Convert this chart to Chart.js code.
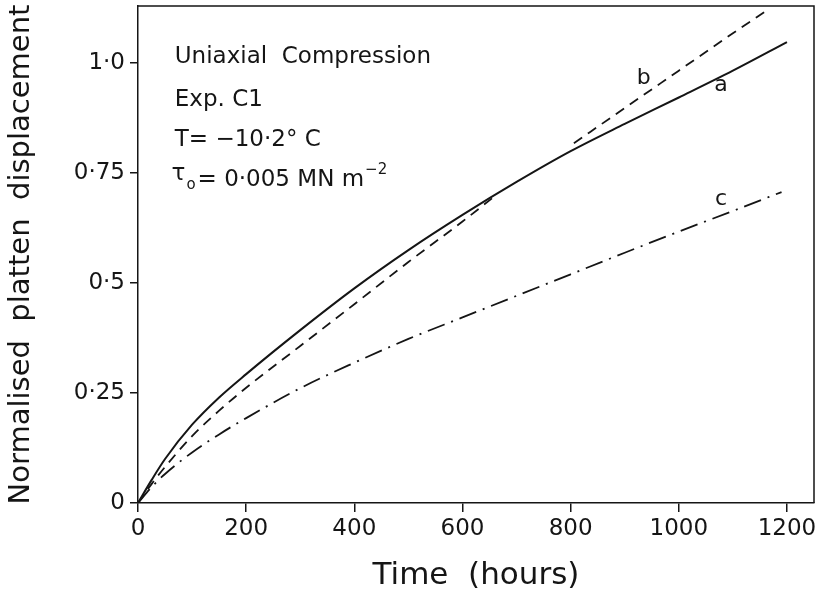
<!DOCTYPE html>
<html>
<head>
<meta charset="utf-8">
<script src="https://cdn.jsdelivr.net/npm/chart.js@4.4.0/dist/chart.umd.min.js"></script>
<style>
  html, body { margin: 0; padding: 0; background: #fff; }
</style>
</head>
<body>
<canvas id="chart" width="822" height="597"></canvas>
<script>
// curve a (solid), b (dashed, two fitted pieces), c (dash-dot)
const hoursA = [0, 25, 50, 100, 150, 200, 300, 400, 500, 600, 700, 800, 900, 1000, 1100, 1200];
const curveA = [0, 0.052, 0.10, 0.178, 0.24, 0.293, 0.393, 0.488, 0.575, 0.655, 0.73, 0.80, 0.862, 0.922, 0.983, 1.048];
const hoursB = [0, 25, 50, 100, 150, 200, 300, 400, 500, 600, 660, 730, 806, 900, 1000, 1100, 1165];
const curveB = [0, 0.043, 0.082, 0.152, 0.21, 0.262, 0.357, 0.452, 0.548, 0.64, 0.698, null, 0.818, 0.898, 0.983, 1.068, 1.122];
const hoursC = [0, 25, 50, 100, 150, 200, 300, 400, 500, 600, 700, 800, 900, 1000, 1100, 1190];
const curveC = [0, 0.036, 0.066, 0.115, 0.156, 0.193, 0.261, 0.319, 0.373, 0.422, 0.471, 0.52, 0.569, 0.617, 0.664, 0.707];

const xTicks = [0, 200, 400, 600, 800, 1000, 1200];
const yTicks = [0, 0.25, 0.5, 0.75, 1.0];
const yTickLabels = ['0', '0·25', '0·5', '0·75', '1·0'];

const curveNames = ['a', 'b', 'c'];
const curveNameAt = [[1078, 0.95], [935, 0.966], [1078, 0.69]];
const noteLines = ['Uniaxial  Compression', 'Exp. C1', 'T= −10·2° C'];
const noteAt = [[68, 1.014], [68, 0.916], [68, 0.825], [62, 0.734]];

const FONT = 'DejaVu Sans';
const INK = '#151515';

const toPoints = (xs, ys) => xs.map((x, i) => ({ x: x, y: ys[i] }));

const framePlugin = {
    id: 'frame',
    afterDraw(chart) {
        const { ctx, chartArea: a } = chart;
        ctx.save();
        ctx.strokeStyle = INK;
        ctx.lineWidth = 1.5;
        ctx.beginPath();
        ctx.moveTo(a.left, a.top);
        ctx.lineTo(a.right, a.top);
        ctx.lineTo(a.right, a.bottom);
        ctx.stroke();
        ctx.restore();
    }
};

const notesPlugin = {
    id: 'notes',
    afterDraw(chart) {
        const ctx = chart.ctx;
        const xs = chart.scales.x, ys = chart.scales.y;
        ctx.save();
        ctx.fillStyle = INK;
        ctx.textBaseline = 'middle';
        ctx.textAlign = 'left';
        ctx.font = `23px "${FONT}"`;
        noteLines.forEach((t, i) => {
            ctx.fillText(t, xs.getPixelForValue(noteAt[i][0]), ys.getPixelForValue(noteAt[i][1]));
        });

        // tau line with sub/superscript
        let x = xs.getPixelForValue(noteAt[3][0]);
        const y = ys.getPixelForValue(noteAt[3][1]);
        ctx.font = `23px "${FONT}"`;
        ctx.fillText('τ', x, y - 6);
        x += ctx.measureText('τ').width + 1;
        ctx.font = `15px "${FONT}"`;
        ctx.fillText('o', x, y + 5);
        x += ctx.measureText('o').width + 2;
        ctx.font = `23px "${FONT}"`;
        const main = '= 0·005 MN m';
        ctx.fillText(main, x, y);
        x += ctx.measureText(main).width + 1;
        ctx.font = `15px "${FONT}"`;
        ctx.fillText('−2', x, y - 10);

        ctx.font = `22px "${FONT}"`;
        ctx.textAlign = 'center';
        curveNames.forEach((n, i) => {
            ctx.fillText(n, xs.getPixelForValue(curveNameAt[i][0]), ys.getPixelForValue(curveNameAt[i][1]));
        });
        ctx.restore();
    }
};

const lineStyle = {
    borderColor: INK,
    pointRadius: 0,
    fill: false,
    cubicInterpolationMode: 'monotone',
    spanGaps: false
};

const tickFont = { family: FONT, size: 23 };

const chart = new Chart(document.getElementById('chart').getContext('2d'), {
    type: 'line',
    data: {
        datasets: [
            { ...lineStyle, label: 'a', data: toPoints(hoursA, curveA), borderWidth: 2 },
            { ...lineStyle, label: 'b', data: toPoints(hoursB, curveB), borderWidth: 1.8, borderDash: [10, 7] },
            { ...lineStyle, label: 'c', data: toPoints(hoursC, curveC), borderWidth: 1.8, borderDash: [18, 7, 2, 7] }
        ]
    },
    options: {
        responsive: false,
        animation: false,
        layout: { padding: { top: 6, right: 8, left: 0, bottom: 0 } },
        plugins: {
            legend: { display: false },
            tooltip: { enabled: false }
        },
        scales: {
            x: {
                type: 'linear',
                min: 0,
                max: 1250,
                afterBuildTicks: s => { s.ticks = xTicks.map(v => ({ value: v })); },
                afterFit: s => { s.height = 94; s.paddingLeft = 0; s.paddingRight = 0; },
                ticks: {
                    font: tickFont,
                    color: INK,
                    padding: 3,
                    maxRotation: 0,
                    autoSkip: false,
                    callback: v => String(v)
                },
                grid: { drawOnChartArea: false, tickLength: 9, color: INK, lineWidth: 1.5 },
                border: { color: INK, width: 1.5 },
                title: { display: true, text: 'Time  (hours)', font: { family: FONT, size: 31 }, color: INK, padding: { top: 0, bottom: 2 } }
            },
            y: {
                min: 0,
                max: 1.13,
                afterBuildTicks: s => { s.ticks = yTicks.map(v => ({ value: v })); },
                afterFit: s => { s.width = 138; s.paddingTop = 0; s.paddingBottom = 0; },
                ticks: {
                    font: tickFont,
                    color: INK,
                    padding: 5,
                    autoSkip: false,
                    callback: v => yTickLabels[yTicks.indexOf(v)]
                },
                grid: { drawOnChartArea: false, tickLength: 8, color: INK, lineWidth: 1.5 },
                border: { color: INK, width: 1.5 },
                title: { display: true, text: 'Normalised  platten  displacement', font: { family: FONT, size: 29 }, color: INK, padding: { top: 4, bottom: 0 } }
            }
        }
    },
    plugins: [framePlugin, notesPlugin]
});
</script>
</body>
</html>
